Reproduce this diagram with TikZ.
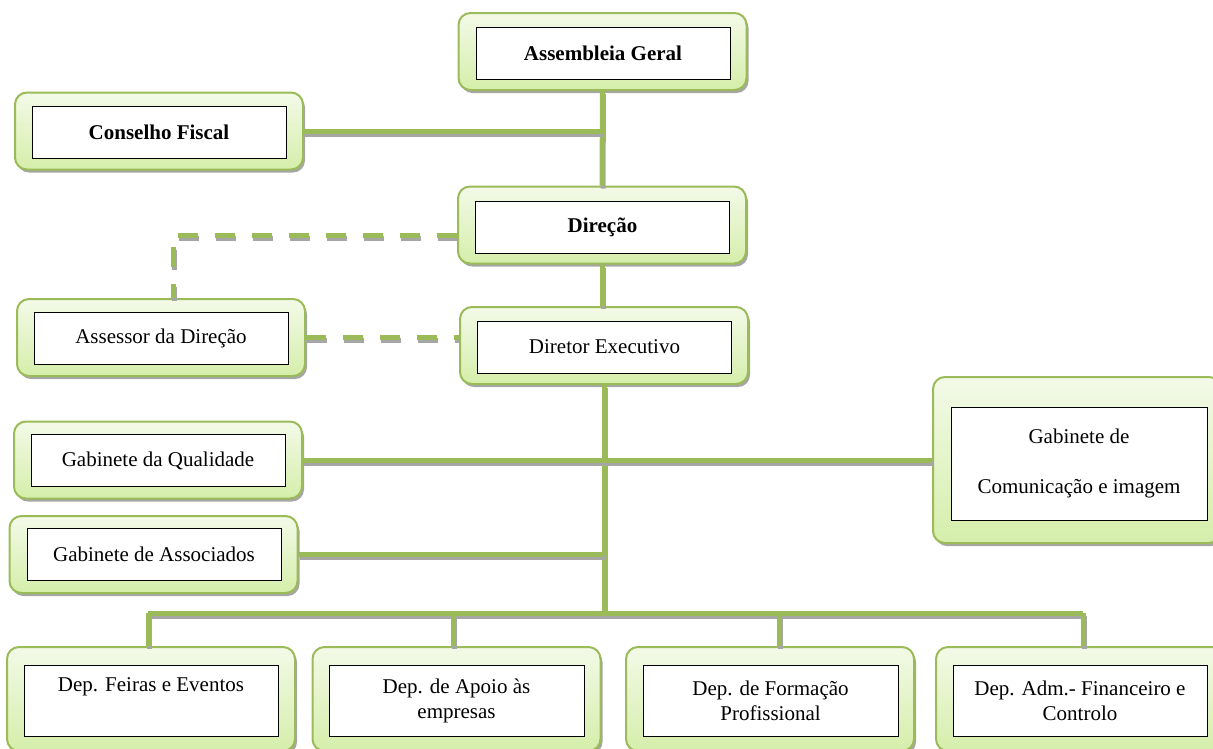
\documentclass[tikz,border=0pt]{standalone}
\usepackage{fontspec}
\setmainfont{Liberation Serif}
\usetikzlibrary{shadows}
\definecolor{olivegreen}{RGB}{155,187,89}
\definecolor{boxtop}{RGB}{243,250,232}
\definecolor{boxbot}{RGB}{213,238,170}

\begin{document}
\begin{tikzpicture}[x=1pt,y=-1pt,
    orgbox/.style={shape=rectangle,rounded corners=12pt,draw=olivegreen,line width=2pt,
      top color=boxtop,bottom color=boxbot,minimum width=288pt,minimum height=77pt,
      drop shadow={shadow xshift=2pt,shadow yshift=-3pt,fill=black!35,opacity=1}},
    orgtext/.style={shape=rectangle,draw=black,fill=white,line width=1pt,inner sep=0pt,
      minimum width=254pt,minimum height=52pt,align=center,
      font=\fontsize{21}{25}\selectfont},
    link/.style={draw=olivegreen,line width=5pt,
      preaction={draw=black!35,line width=5pt,transform canvas={xshift=1pt,yshift=-3pt}}},
    dashlink/.style={draw=olivegreen,line width=5pt,dash pattern=on 20pt off 17pt,
      preaction={draw=black!35,line width=5pt,dash pattern=on 20pt off 17pt,
        transform canvas={xshift=1pt,yshift=-3pt}}}]
    \useasboundingbox (0,0) rectangle (1213,748);
    \clip (0,0) rectangle (1213,748);

    \node[orgbox] (ag) at (602.5,51.5) {};
    \node[orgtext,font=\fontsize{21}{25}\selectfont\bfseries] (ag-t) at (603,53) {Assembleia Geral};
    \node[orgbox] (cf) at (159,131) {};
    \node[orgtext,font=\fontsize{21}{25}\selectfont\bfseries] (cf-t) at (159,132.5) {Conselho Fiscal};
    \node[orgbox] (dir) at (602,225) {};
    \node[orgtext,font=\fontsize{21}{25}\selectfont\bfseries] (dir-t) at (602.5,227) {Direção};
    \node[orgbox] (ad) at (161,337.5) {};
    \node[orgtext] (ad-t) at (161,338.5) {Assessor da Direção};
    \node[orgbox] (de) at (604,345.5) {};
    \node[orgtext] (de-t) at (604.5,347) {Diretor Executivo};
    \node[orgbox] (gq) at (158,460) {};
    \node[orgtext] (gq-t) at (158,460.5) {Gabinete da Qualidade};
    \node[orgbox] (ga) at (153.5,554.5) {};
    \node[orgtext] (ga-t) at (154,554.5) {Gabinete de Associados};
    \node[orgbox,minimum height=166pt] (gc) at (1077,460) {};
    \node[orgtext,minimum width=256pt,minimum height=113pt] (gc-t) at (1079,463.5) {Gabinete de\\[25pt]Comunicação e imagem};

    \node[orgbox,minimum height=104pt] (dfe) at (151,699) {};
    \node[orgtext,minimum height=71pt] (dfe-t) at (151,700.5) {Dep. Feiras e Eventos\\\strut};
    \node[orgbox,minimum height=104pt] (dap) at (456.5,699) {};
    \node[orgtext,minimum width=255pt,minimum height=71pt] (dap-t) at (456.5,700.5) {Dep. de Apoio às\\empresas};
    \node[orgbox,minimum height=104pt] (dfp) at (770,699) {};
    \node[orgtext,minimum width=255pt,minimum height=71pt] (dfp-t) at (770.5,700.5) {Dep. de Formação\\Profissional};
    \node[orgbox,minimum height=104pt] (dafc) at (1080,699) {};
    \node[orgtext,minimum height=71pt] (dafc-t) at (1080,700.5) {Dep. Adm.- Financeiro e\\Controlo};

    \coordinate (dc) at (173,235);
    \coordinate (bus) at (604,613);
    \coordinate (b1) at (148,613);
    \coordinate (b2) at (453,613);
    \coordinate (b3) at (779,613);
    \coordinate (b4) at (1083,613);

    \draw[link] (ag.south) -- (dir.north);
    \draw[link] (cf.east) -- (cf.east -| ag.south);
    \draw[link] (dir.south) -- (dir.south |- de.north);
    \draw[dashlink] (dc -| dir.west) -- (dc) -- (dc |- ad.north);
    \draw[dashlink] (ad.east) -- (ad.east -| de.west);
    \draw[link] (de.south) -- (de.south |- bus);
    \draw[link] (gq.east) -- (gc.west);
    \draw[link] (ga.east) -- (ga.east -| bus);
    \draw[link] (b1) -- (b4);
    \draw[link] (b1) -- (b1 |- dfe.north);
    \draw[link] (b2) -- (b2 |- dap.north);
    \draw[link] (b3) -- (b3 |- dfp.north);
    \draw[link] (b4) -- (b4 |- dafc.north);
\end{tikzpicture}
\end{document}
